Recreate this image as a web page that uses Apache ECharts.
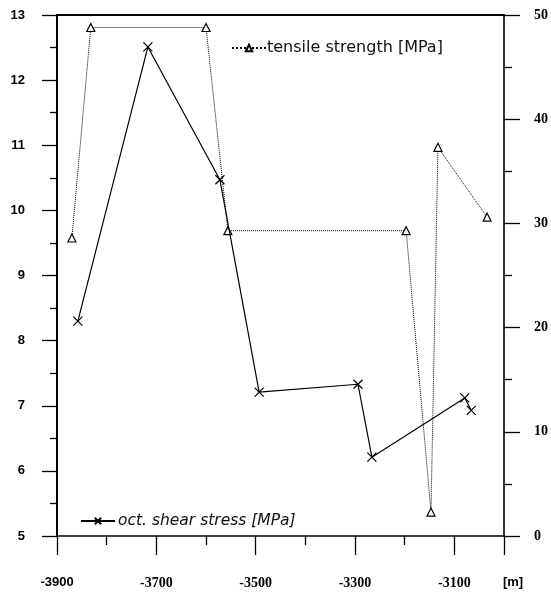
<!DOCTYPE html>
<html>
<head>
<meta charset="utf-8">
<script src="https://cdn.jsdelivr.net/npm/echarts@6/dist/echarts.min.js"></script>
<style>
  html, body { margin: 0; padding: 0; background: #fff; }
  #chart { width: 551px; height: 593px; }
</style>
</head>
<body>
<div id="chart"></div>
<script>
// depth [m] and values
const tensileDepth = [-3870, -3832, -3600, -3556, -3197, -3147, -3133, -3034];
const tensileStrength = [28.6, 48.8, 48.8, 29.3, 29.3, 2.3, 37.3, 30.6];

const shearDepth = [-3858, -3717, -3572, -3493, -3294, -3266, -3079, -3066];
const shearStress = [8.30, 12.51, 10.47, 7.21, 7.33, 6.21, 7.12, 6.93];

const xTicks = [-3900, -3700, -3500, -3300, -3100];

const crossSymbol = 'path://M0 0L10 10M10 0L0 10';

const chart = echarts.init(document.getElementById('chart'));

const option = {
  animation: false,
  backgroundColor: '#fff',
  grid: { left: 57, right: 47, top: 15, bottom: 57 },
  legend: [
    {
      data: ['tensile strength [MPa]'],
      left: 226, top: 35,
      itemWidth: 34, itemHeight: 8, itemGap: 0,
      textStyle: { fontFamily: 'DejaVu Sans', fontSize: 16, color: '#111', padding: [0, 0, 0, -4] }
    },
    {
      data: ['oct. shear stress [MPa]'],
      left: 75, top: 508,
      itemWidth: 34, itemHeight: 8, itemGap: 0,
      textStyle: { fontFamily: 'DejaVu Sans', fontStyle: 'italic', fontSize: 15.5, color: '#111', padding: [0, 0, 0, -2] }
    }
  ],
  xAxis: [
    {
      type: 'value',
      min: -3900, max: -3000, interval: 200,
      splitLine: { show: false },
      axisLine: { onZero: false, lineStyle: { color: '#000', width: 1.5 } },
      axisTick: { length: 19, lineStyle: { color: '#000', width: 1.3 } },
      minorTick: { show: true, splitNumber: 2, length: 9, lineStyle: { color: '#000', width: 1.3 } },
      axisLabel: {
        margin: 40,
        color: '#000',
        fontFamily: 'Liberation Serif',
        fontWeight: 'bold',
        fontSize: 14,
        formatter: function (v) {
          if (v === -3000) return '{u|[m]}';
          if (xTicks.indexOf(v) < 0) return '';
          if (v === -3900) return '{s|' + v + '}';
          return String(v);
        },
        rich: {
          s: { fontFamily: 'Liberation Sans', fontWeight: 'bold', fontSize: 13, color: '#000' },
          u: { fontFamily: 'Liberation Sans', fontSize: 13, color: '#000', padding: [0, 0, 0, 18] }
        }
      }
    },
    {
      type: 'value',
      position: 'top',
      min: -3900, max: -3000,
      splitLine: { show: false },
      axisLine: { onZero: false, lineStyle: { color: '#000', width: 2 } },
      axisTick: { show: false },
      axisLabel: { show: false }
    }
  ],
  yAxis: [
    {
      type: 'value',
      min: 5, max: 13, interval: 1,
      splitLine: { show: false },
      axisLine: { show: true, onZero: false, lineStyle: { color: '#000', width: 2 } },
      axisTick: { length: 15, lineStyle: { color: '#000', width: 1.3 } },
      minorTick: { show: true, splitNumber: 2, length: 7, lineStyle: { color: '#000', width: 1.3 } },
      axisLabel: {
        margin: 32, color: '#000',
        fontFamily: 'Liberation Sans', fontWeight: 'bold', fontSize: 13
      }
    },
    {
      type: 'value',
      position: 'right',
      min: 0, max: 50, interval: 10,
      splitLine: { show: false },
      axisLine: { show: true, onZero: false, lineStyle: { color: '#333', width: 2 } },
      axisTick: { length: 16, lineStyle: { color: '#000', width: 1.3 } },
      minorTick: { show: true, splitNumber: 2, length: 8, lineStyle: { color: '#000', width: 1.3 } },
      axisLabel: {
        margin: 30, color: '#000',
        fontFamily: 'Liberation Serif', fontWeight: 'bold', fontSize: 14
      }
    }
  ],
  series: [
    {
      name: 'tensile strength [MPa]',
      type: 'line',
      yAxisIndex: 1,
      data: tensileDepth.map((d, i) => [d, tensileStrength[i]]),
      symbol: 'triangle',
      symbolSize: 8,
      lineStyle: { color: '#000', width: 1, type: 'dotted' },
      itemStyle: { color: '#fff', borderColor: '#000', borderWidth: 1.2 },
      z: 3
    },
    {
      name: 'oct. shear stress [MPa]',
      type: 'line',
      yAxisIndex: 0,
      data: shearDepth.map((d, i) => [d, shearStress[i]]),
      symbol: crossSymbol,
      symbolSize: 9,
      lineStyle: { color: '#000', width: 1.2 },
      itemStyle: { color: 'transparent', borderColor: '#000', borderWidth: 1.2 },
      z: 4
    }
  ]
};

chart.setOption(option);
</script>
</body>
</html>
